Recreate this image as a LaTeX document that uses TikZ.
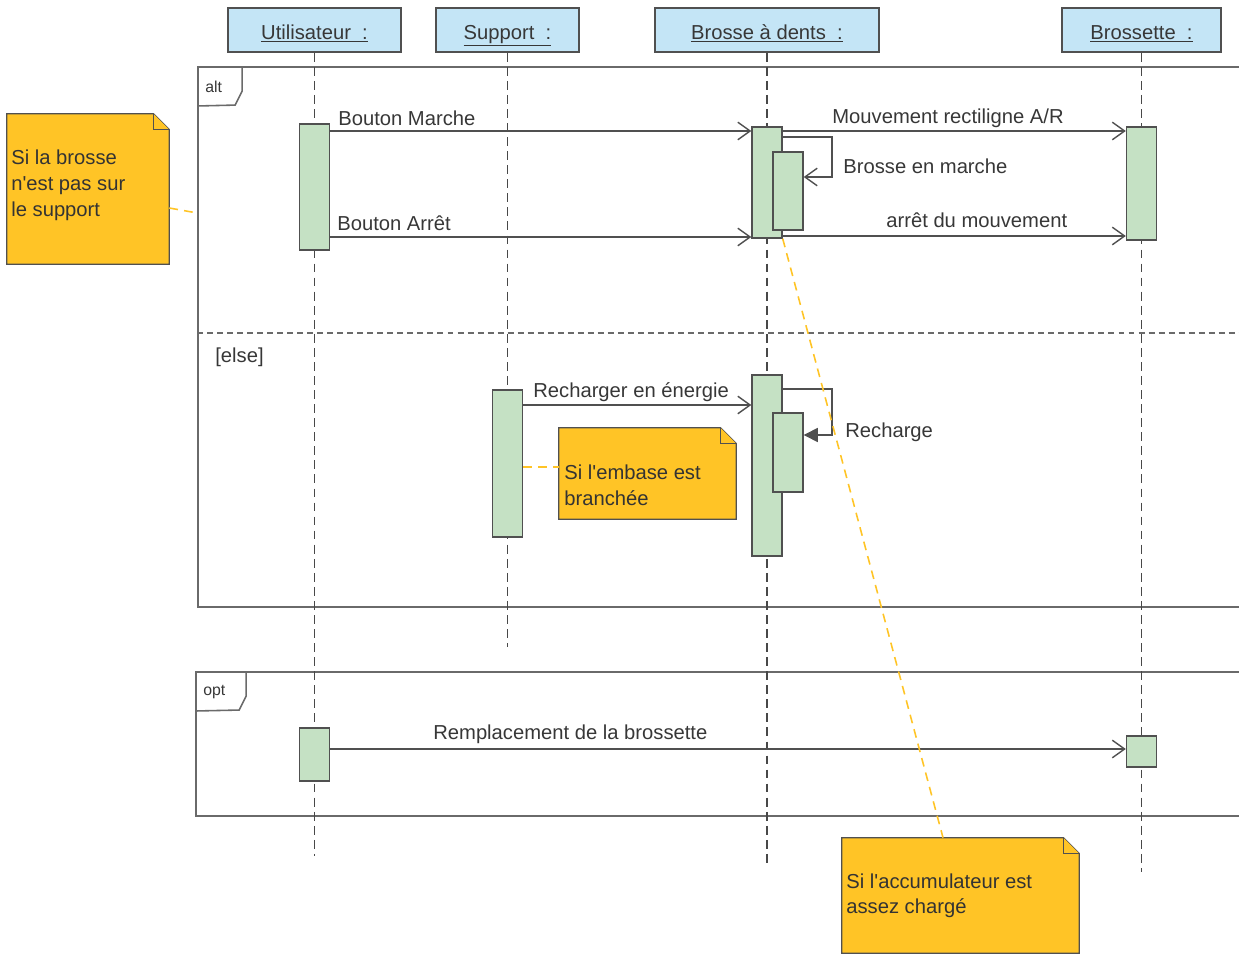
\documentclass[tikz,border=0pt]{standalone}
\usepackage{fontspec}
\setmainfont{Liberation Sans}
\usetikzlibrary{arrows.meta}
\definecolor{headblue}{RGB}{196,229,246}
\definecolor{actgreen}{RGB}{197,225,196}
\definecolor{notegold}{RGB}{255,196,38}
\definecolor{pen}{RGB}{80,80,80}
\definecolor{ink}{RGB}{55,55,55}
\newcommand\notecorner[1]{%
	\filldraw[notepen] (#1.north west) -- ([xshift=-0.32cm]#1.north east) -- ([yshift=-0.32cm]#1.north east) -- (#1.south east) -- (#1.south west) -- cycle;
	\draw[notepen] ([xshift=-0.32cm]#1.north east) |- ([yshift=-0.32cm]#1.north east);}
\begin{document}
\begin{tikzpicture}[x=0.02cm,y=-0.02cm,font=\fontsize{11.5}{14.7}\selectfont,text=ink,
	head/.style={draw=pen,fill=headblue,line width=0.9pt,minimum height=0.88cm,inner sep=0,text height=11pt,text depth=0.6pt},
	life/.style={draw=pen!90!black,line width=0.9pt,dash pattern=on 5pt off 3pt},
	act/.style={draw=pen,fill=actgreen,line width=0.8pt,minimum width=0.6cm,inner sep=0},
	msg/.style={draw=pen,line width=0.8pt,-{Straight Barb[length=7pt,width=10pt]}},
	msgtxt/.style={inner sep=0,anchor=west},
	fragment/.style={draw=pen!85,line width=1.1pt,inner sep=0},
	fragtag/.style={draw=pen!85,line width=0.9pt},
	notebox/.style={inner sep=0},
	notepen/.style={draw=pen,fill=notegold,line width=0.7pt},
	notelink/.style={draw=notegold,line width=0.9pt,dash pattern=on 5pt off 3.5pt},
	notetext/.style={inner sep=0,anchor=north west,align=left,text=black!80}]
	\useasboundingbox (0,0) rectangle (1239,955);
	\node[fragment,minimum width=21.24cm,minimum height=10.8cm] (alt) at (729,337) {};
	\node[fragment,minimum width=21.28cm,minimum height=2.88cm] (opt) at (728,744) {};
	\draw[fragtag] ([xshift=0.9cm]alt.north west) -- ++(0,25) -- ++(-7,14) -- (alt.north west |- 0,106);
	\draw[fragtag] ([xshift=1.02cm]opt.north west) -- ++(0,25) -- ++(-7,14) -- (opt.north west |- 0,711);
	\node[msgtxt,font=\fontsize{9}{11}\selectfont] (alttag) at (205,87) {alt};
	\node[msgtxt,font=\fontsize{9}{11}\selectfont] (opttag) at (203,692) {opt};
	\draw[draw=pen!85,line width=0.9pt,dash pattern=on 3.4pt off 2.3pt] (alt.west |- 0,333) -- (alt.east |- 0,333);
	\node[msgtxt] (elsetag) at (215,357) {[else]};

	\node[head,minimum width=3.46cm] (user) at (314.5,30) {\underline{Utilisateur~~:}};
	\node[head,minimum width=2.86cm] (support) at (507.5,30) {\underline{Support~~:}};
	\node[head,minimum width=4.48cm] (brosse) at (767,30) {\underline{Brosse à dents~~:}};
	\node[head,minimum width=3.18cm] (brossette) at (1141.5,30) {\underline{Brossette~~:}};
	\draw[life] (user.south) -- (user.south |- 0,856);
	\draw[life] (support.south) -- (support.south |- 0,647);
	\draw[life] (brosse.south) -- (brosse.south |- 0,864);
	\draw[life] (brossette.south) -- (brossette.south |- 0,872);

	\node[act,minimum height=2.52cm] (ua) at (user.south |- 0,187) {};
	\node[act,minimum height=2.22cm] (ba) at (brosse.south |- 0,182.5) {};
	\node[act,minimum height=1.56cm] (bb) at (788,191) {};
	\node[act,minimum height=2.26cm] (ra) at (brossette.south |- 0,183.5) {};
	\node[act,minimum height=2.94cm] (sa) at (support.south |- 0,463.5) {};
	\node[act,minimum height=3.62cm] (bc) at (brosse.south |- 0,465.5) {};
	\node[act,minimum height=1.58cm] (bd) at (788,452.5) {};
	\node[act,minimum height=1.06cm] (uc) at (user.south |- 0,754.5) {};
	\node[act,minimum height=0.62cm] (rc) at (brossette.south |- 0,751.5) {};

	\draw[msg] (ua.east |- 0,131) -- (ba.west |- 0,131);
	\node[msgtxt] (marche) at (338,118) {Bouton Marche};
	\draw[msg] (ba.east |- 0,131) -- (ra.west |- 0,131);
	\node[msgtxt] (mouvement) at (832,118) {Mouvement rectiligne A/R};
	\draw[msg] (ba.east |- 0,137) -- (832,137) -- (832,177) -- (bb.east |- 0,177);
	\node[msgtxt] (enmarche) at (843,166) {Brosse en marche};
	\draw[msg] (ua.east |- 0,237) -- (ba.west |- 0,237);
	\node[msgtxt] (arret) at (337,223) {Bouton Arrêt};
	\draw[msg] (ba.east |- 0,236) -- (ra.west |- 0,236);
	\node[msgtxt] (arretmvt) at (886,220) {arrêt du mouvement};
	\draw[msg] (sa.east |- 0,405) -- (bc.west |- 0,405);
	\node[msgtxt] (recharger) at (533,392) {Recharger en énergie};
	\draw[draw=pen,line width=0.8pt,-{Triangle[length=8pt,width=8pt]}] (bc.east |- 0,389) -- (832,389) -- (832,435) -- (bd.east |- 0,435);
	\node[msgtxt] (recharge) at (845,432) {Recharge};
	\draw[msg] (uc.east |- 0,749) -- (rc.west |- 0,749);
	\node[msgtxt] (remplacement) at (433,734) {Remplacement de la brossette};

	\node[notebox,minimum width=3.24cm,minimum height=3cm] (brossenote) at (88,189) {};
	\notecorner{brossenote}
	\node[notetext] (brossetext) at (11,150) {Si la brosse\\n\textquotesingle est pas sur\\le support};
	\draw[notelink] (brossenote.east |- 0,208) -- (alt.west |- 0,213);
	\node[notebox,minimum width=3.54cm,minimum height=1.82cm] (embasenote) at (647.5,473.5) {};
	\notecorner{embasenote}
	\node[notetext] (embasetext) at (564,465) {Si l\textquotesingle embase est\\branchée};
	\draw[notelink] (sa.east |- 0,467) -- (embasenote.west |- 0,467);
	\node[notebox,minimum width=4.74cm,minimum height=2.3cm] (accunote) at (960.5,895.5) {};
	\notecorner{accunote}
	\node[notetext] (accutext) at (846,873) {Si l\textquotesingle accumulateur est\\assez chargé};
	\draw[notelink] (ba.south east) -- (accunote.north -| 943,0);
\end{tikzpicture}
\end{document}
